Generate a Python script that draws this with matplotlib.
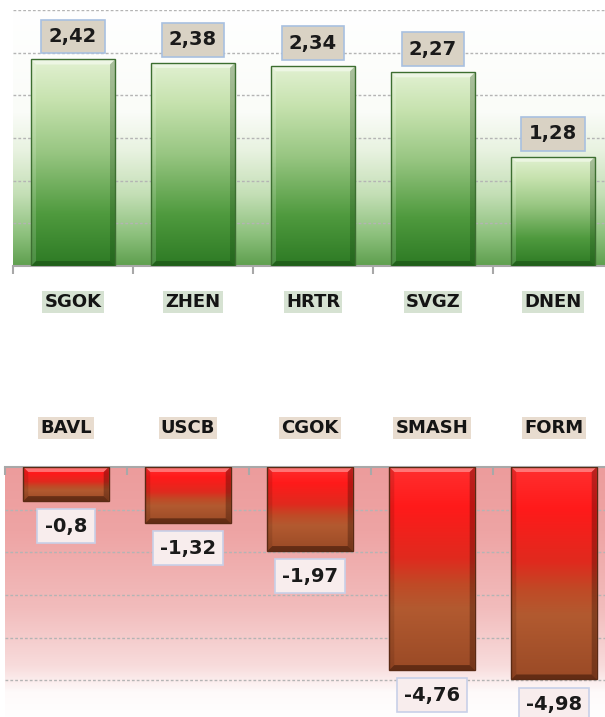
import numpy as np
import matplotlib
matplotlib.use("Agg")
import matplotlib.pyplot as plt
from matplotlib.colors import LinearSegmentedColormap
from matplotlib.patches import Polygon

top_cats = ["SGOK", "ZHEN", "HRTR", "SVGZ", "DNEN"]
top_vals = [2.42, 2.38, 2.34, 2.27, 1.28]
bot_cats = ["BAVL", "USCB", "CGOK", "SMASH", "FORM"]
bot_vals = [-0.8, -1.32, -1.97, -4.76, -4.98]

W, H = 605, 717
fig = plt.figure(figsize=(W / 100, H / 100), dpi=100)
fig.patch.set_facecolor("white")
FONT = "DejaVu Sans"


def fmt(v):
    return f"{v:g}".replace(".", ",")


def vgrad(ax, cmap, zorder=0):
    grad = np.linspace(0, 1, 256).reshape(-1, 1)
    ax.imshow(grad, cmap=cmap, extent=[0, 1, 0, 1], transform=ax.transAxes,
              aspect="auto", origin="lower", zorder=zorder, interpolation="bilinear")


def bevel(ax, x0, x1, ylo, yhi, bx, by, cols, z):
    polys = {
        "top": [(x0, yhi), (x1, yhi), (x1 - bx, yhi - by), (x0 + bx, yhi - by)],
        "bottom": [(x0, ylo), (x1, ylo), (x1 - bx, ylo + by), (x0 + bx, ylo + by)],
        "left": [(x0, ylo), (x0, yhi), (x0 + bx, yhi - by), (x0 + bx, ylo + by)],
        "right": [(x1, ylo), (x1, yhi), (x1 - bx, yhi - by), (x1 - bx, ylo + by)],
    }
    for k, p in polys.items():
        c, a = cols[k]
        ax.add_patch(Polygon(p, closed=True, facecolor=c, alpha=a, edgecolor="none", zorder=z))


def draw_chart(ax, cats, vals, ylim, grid_step, bg_cmap, bar_cmap, bevel_cols,
               edge_col, box_face, box_edge, cat_face, positive):
    n = len(cats)
    x = np.arange(n)
    ax.set_xlim(-0.5, n - 0.5)
    ax.set_ylim(*ylim)
    vgrad(ax, bg_cmap, zorder=0)
    lo, hi = ylim
    g = np.arange(lo, hi + 1e-9, grid_step)
    for gy in g:
        if abs(gy) < 1e-9:
            continue
        ax.axhline(gy, color="#b4b4b4", lw=1.0, ls=(0, (2, 1.5)), zorder=1)
    bars = ax.bar(x, vals, width=0.7, facecolor="none", edgecolor="none", zorder=2)
    ax.set_xlim(-0.5, n - 0.5)
    ax.set_ylim(*ylim)
    fig.canvas.draw()
    p0 = ax.transData.transform((0, 0))
    p1 = ax.transData.transform((1, 1))
    pxx, pxy = p1[0] - p0[0], abs(p1[1] - p0[1])
    bx, by = 5 / pxx, 5 / pxy
    grad = np.linspace(0, 1, 256).reshape(-1, 1)
    for b in bars:
        x0 = b.get_x()
        x1 = x0 + b.get_width()
        ya, yb = b.get_y(), b.get_y() + b.get_height()
        ylo, yhi = min(ya, yb), max(ya, yb)
        im = ax.imshow(grad, cmap=bar_cmap, extent=[x0, x1, ylo, yhi], origin="lower",
                       aspect="auto", zorder=3, interpolation="bilinear")
        im.set_clip_path(b)
        bevel(ax, x0, x1, ylo, yhi, bx, by, bevel_cols, 4)
        ax.add_patch(plt.Rectangle((x0, ylo), x1 - x0, yhi - ylo, facecolor="none",
                                   edgecolor=edge_col, lw=1.0, zorder=5))
    ax.set_xlim(-0.5, n - 0.5)
    ax.set_ylim(*ylim)
    for xi, v in zip(x, vals):
        off = 23 if positive else -25
        ax.annotate(fmt(v), xy=(xi, v), xytext=(0, off * 0.72), textcoords="offset points",
                    ha="center", va="center", fontsize=14, fontweight="bold",
                    family=FONT, color="#1a1a1a", zorder=6, annotation_clip=False,
                    bbox=dict(boxstyle="square,pad=0.38", facecolor=box_face,
                              edgecolor=box_edge, lw=1.2))
    for xi, c in zip(x, cats):
        dy = -36 if positive else 39
        ax.annotate(c, xy=(xi, 0), xytext=(0, dy * 0.72), textcoords="offset points",
                    ha="center", va="center", fontsize=13, fontweight="bold",
                    family=FONT, color="#141414", annotation_clip=False,
                    bbox=dict(boxstyle="square,pad=0.12", facecolor=cat_face,
                              edgecolor="none"))
    for s in ax.spines.values():
        s.set_visible(False)
    ax.set_yticks([])
    ax.set_xticks(np.arange(-0.5, n, 1.0))
    ax.set_xticklabels([])
    if positive:
        ax.spines["bottom"].set_visible(True)
        ax.spines["bottom"].set_color("#a8a8a8")
        ax.spines["bottom"].set_linewidth(1.5)
        ax.tick_params(axis="x", direction="out", length=6, width=1.5, color="#a8a8a8")
    else:
        ax.xaxis.tick_top()
        ax.spines["top"].set_visible(True)
        ax.spines["top"].set_color("#a8a8a8")
        ax.spines["top"].set_linewidth(1.5)
        ax.tick_params(axis="x", direction="in", length=6, width=1.5, color="#a8a8a8",
                       top=True, bottom=False)


# ---------- top chart ----------
ax1 = fig.add_axes([13 / W, 1 - 266 / H, 600 / W, 256 / H])
bg_top = LinearSegmentedColormap.from_list("bgt", [
    (0.0, "#5e9f4e"), (0.12, "#8cc07c"), (0.28, "#c4dfb6"),
    (0.45, "#e8f2e0"), (0.6, "#fafcf8"), (1.0, "#ffffff")])
bar_top = LinearSegmentedColormap.from_list("bart", [
    (0.0, "#2d7a24"), (0.25, "#4f9a3e"), (0.55, "#98c682"),
    (0.8, "#c6e2ae"), (1.0, "#e2f1d2")])
bev_top = {"top": ("#ffffff", 0.45), "bottom": ("#0a300a", 0.35),
           "left": ("#ffffff", 0.15), "right": ("#0a300a", 0.25)}
draw_chart(ax1, top_cats, top_vals, (0, 3.0), 0.5, bg_top, bar_top, bev_top,
           "#3c6e30", "#d9d2c4", "#a8c0e0", "#d6e2d2", True)

# ---------- bottom chart ----------
ax2 = fig.add_axes([5 / W, 1 - 723 / H, 610 / W, 256 / H])
bg_bot = LinearSegmentedColormap.from_list("bgb", [
    (0.0, "#ffffff"), (0.12, "#fefafa"), (0.22, "#f8dcdc"),
    (0.45, "#f2bcbc"), (0.75, "#eea4a4"), (1.0, "#ec9c9c")])
bar_bot = LinearSegmentedColormap.from_list("barb", [
    (0.0, "#9a4a26"), (0.3, "#b25a30"), (0.42, "#c04a26"),
    (0.55, "#e02a1e"), (0.8, "#ff1a1a"), (1.0, "#ff3030")])
bev_bot = {"top": ("#ffffff", 0.35), "bottom": ("#200800", 0.45),
           "left": ("#200800", 0.12), "right": ("#200800", 0.3)}
draw_chart(ax2, bot_cats, bot_vals, (-6.0, 0), 1.0, bg_bot, bar_bot, bev_bot,
           "#5a2a14", "#f8eded", "#c8d0e8", "#e8dccf", False)

fig.savefig("out.png", dpi=100, facecolor="white")
